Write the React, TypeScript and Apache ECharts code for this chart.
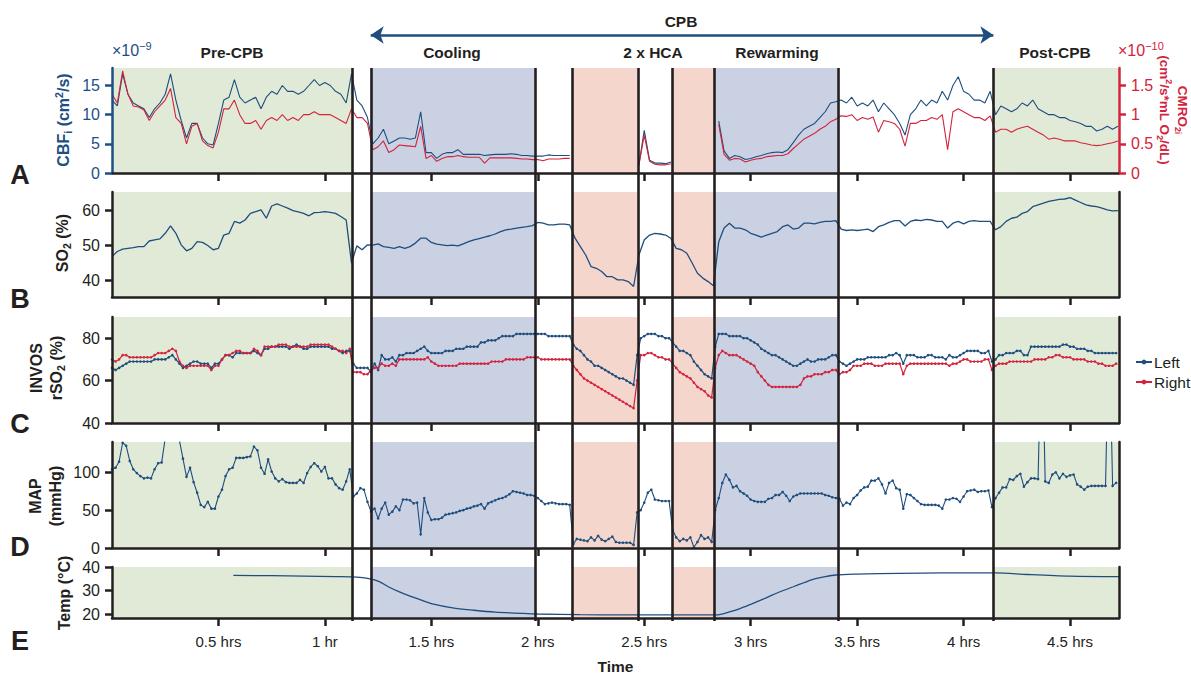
import React, { useEffect, useRef } from "react";
import * as echarts from "echarts";

const FONT = '"Liberation Sans", Arial, Helvetica, sans-serif';
const BLUE = "#1f4e7e";
const AXIS_BLUE = "#1c4f86";
const RED = "#d3233d";
const INK = "#231f20";
const GREEN_BG = "#e1e9d7";
const BLUE_BG = "#c9d1e3";
const PINK_BG = "#f5d6cd";

const X_MAX = 4.73;
const hourTicks = [0.5, 1, 1.5, 2, 2.5, 3, 3.5, 4, 4.5];
const phaseBoundaries = [1.128, 1.215, 1.985, 2.164, 2.466, 2.632, 2.833, 3.406, 4.14];
const greenSpans = [[0, 1.128], [4.14, 4.73]];
const blueSpans = [[1.215, 1.985], [2.833, 3.406]];
const pinkSpans = [[2.164, 2.466], [2.632, 2.833]];
const cpbSpan = [1.215, 4.14];

// Panel A & B traces, sampled every 0.025 h
const TRACE_STEP_HRS = 0.025;
const cbfValues = [
  12.5, 11.5, 17, 13.5, 12, 11.5, 11, 9.5, 11, 12,
  13.5, 17, 12.5, 9, 6, 8.5, 8.5, 6, 5, 4.8,
  8.5, 12.5, 13, 16, 13, 12, 12.5, 13, 11, 13,
  14, 13.5, 15, 14, 14, 13.5, 14, 15, 16, 15,
  15.5, 15, 14, 13.5, 12, 17, 12.5, 11.5, 9.5, 5,
  6, 7.5, 5, 5.5, 6, 6, 5.8, 6, 10.5, 3.5,
  3.5, 2.5, 3.2, 3.5, 3.5, 4, 3.2, 3.2, 3.2, 3.2,
  3, 3.1, 3.2, 3.2, 3.2, 3.3, 3.2, 3, 3, 2.9,
  2.9, 2.9, 3.1, 3, 3, 3, 3, null, null, null,
  null, null, null, null, null, null, null, null, null, 1.4,
  7.3, 2.2, 1.7, 1.7, 1.6, 1.9, null, null, null, null,
  null, null, null, null, 8.9, 3.8, 2.5, 3, 2.8, 2.3,
  2.5, 2.8, 3, 3.3, 3.5, 3.6, 3.5, 4, 5.2, 6.5,
  7.5, 8, 8.5, 9.5, 10.5, 12, 12.2, 12.5, 12, 13,
  11.5, 12, 11.5, 12.5, 10.5, 12, 11, 10, 8.5, 6.5,
  10, 11, 12.5, 11.5, 12.5, 12, 14, 12.5, 15, 16.5,
  14, 13.5, 12.5, 12.5, 12, 14, 10, 11.5, 11, 10.5,
  11, 12, 11.5, 12.5, 11, 10.5, 10, 10, 9.5, 9.5,
  9, 8.8, 8.5, 8, 8, 7.2, 7.5, 8, 7.5, 8,
];
const cmro2Values = [
  1.35, 1.2, 1.75, 1.35, 1.15, 1.13, 1.08, 0.9, 1.05, 1.15,
  1.25, 1.45, 0.95, 0.85, 0.5, 0.8, 0.85, 0.55, 0.47, 0.43,
  0.7, 1.1, 1.1, 1.25, 1.0, 0.85, 0.85, 0.9, 0.75, 0.9,
  0.95, 0.9, 1.0, 0.9, 0.95, 0.9, 1.0, 1.0, 1.05, 1.0,
  1.0, 1.0, 0.95, 0.9, 0.85, 1.1, 0.95, 0.95, 0.85, 0.4,
  0.45, 0.55, 0.35, 0.4, 0.48, 0.47, 0.46, 0.45, 0.8, 0.25,
  0.3, 0.2, 0.25, 0.28, 0.28, 0.3, 0.28, 0.27, 0.27, 0.27,
  0.17, 0.26, 0.26, 0.26, 0.26, 0.26, 0.25, 0.24, 0.24, 0.23,
  0.23, 0.21, 0.24, 0.24, 0.24, 0.25, 0.25, null, null, null,
  null, null, null, null, null, null, null, null, null, 0.14,
  0.65, 0.2, 0.15, 0.14, 0.14, 0.16, null, null, null, null,
  null, null, null, null, 0.83, 0.32, 0.22, 0.25, 0.24, 0.19,
  0.22, 0.24, 0.25, 0.28, 0.29, 0.3, 0.3, 0.33, 0.42, 0.5,
  0.58, 0.63, 0.68, 0.75, 0.8, 0.88, 0.92, 0.98, 0.97, 1.0,
  0.9, 0.95, 0.92, 0.96, 0.7, 0.9, 0.88, 0.85, 0.75, 0.46,
  0.85, 0.85, 0.9, 0.9, 0.95, 0.92, 1.0, 0.4, 1.05, 1.1,
  1.05, 1.0, 0.95, 0.95, 0.9, 0.98, 0.7, 0.75, 0.75, 0.7,
  0.75, 0.78, 0.8, 0.75, 0.7, 0.65, 0.58, 0.6, 0.58, 0.55,
  0.55, 0.55, 0.52, 0.5, 0.48, 0.47, 0.48, 0.5, 0.52, 0.55,
];
const so2Values = [
  46.9, 48.3, 49, 49.2, 49.4, 49.7, 49.7, 51.3, 51.6, 51.9,
  53.5, 55.6, 53.5, 50.2, 48.5, 49.2, 51.1, 50.9, 50, 48.8,
  49.2, 53, 53.5, 56.9, 56.4, 57.3, 59.2, 59.7, 60.2, 57.8,
  61.3, 61.9, 61.3, 60.7, 60, 59.6, 59.2, 58.5, 59.4, 59.5,
  59.7, 59.5, 59.2, 58.3, 57.3, 45, 49.9, 48.8, 50.2, 50.1,
  50.5, 49.7, 49.5, 49.2, 49.7, 49.2, 49.7, 50.7, 52.1, 52.1,
  50.9, 50.4, 50.2, 50, 50.1, 49.9, 50.5, 51.1, 51.6, 52,
  52.4, 52.8, 53.3, 54, 54.5, 54.7, 55, 55.2, 55.4, 55.7,
  56.6, 56.4, 55.9, 55.9, 56.1, 56.1, 55.9, 52.1, 49.7, 47.3,
  44, 43.5, 42.6, 41.1, 41.1, 40.2, 40.2, 39.7, 38.3, 47.3,
  51.6, 53, 53.5, 53.3, 53, 52.1, 49.2, 48.8, 47.8, 45,
  42.1, 40.7, 39.7, 38.5, 51.1, 55, 56.4, 55, 55, 54.5,
  53.5, 53, 52.4, 53, 53.5, 54, 55.4, 55.9, 54.7, 55,
  56.4, 56.4, 56.2, 56.6, 56.9, 56.9, 57.1, 54.7, 54.3, 54.5,
  54.3, 54.5, 54.7, 54, 55.4, 55.9, 56.6, 57.1, 57.1, 55.6,
  56.9, 57.3, 57.1, 57.5, 57.3, 56.9, 56.9, 55, 56.4, 56.9,
  56.2, 56.9, 57.1, 56.9, 56.9, 56.9, 54.5, 55.4, 56.9, 57.8,
  58.1, 59.2, 59.7, 61.1, 61.6, 62.1, 62.6, 62.9, 63.2, 63.3,
  63.7, 63, 62.3, 61.6, 61.3, 61.1, 60.7, 60.2, 59.9, 60,
];

// Panels C & D: one reading per minute
const MINUTE_HRS = 1 / 60;
const invosLeft = [
  66, 65, 66, 67, 68, 69, 69, 69, 69, 69,
  69, 69, 70, 70, 70, 70, 71, 72, 70, 68,
  66, 67, 68, 69, 69, 68, 68, 68, 66, 68,
  68, 70, 72, 72, 71, 73, 73, 73, 73, 73,
  74, 73, 72, 75, 75, 76, 76, 76, 76, 76,
  75, 76, 77, 76, 75, 75, 76, 76, 76, 76,
  76, 76, 75, 75, 74, 73, 74, 74, 68, 66,
  66, 66, 66, 64, 68, 65, 72, 70, 70, 71,
  69, 72, 72, 73, 73, 73, 74, 75, 76, 74,
  73, 73, 73, 73, 74, 74, 74, 75, 75, 75,
  76, 76, 76, 76, 78, 78, 79, 79, 79, 80,
  81, 81, 81, 81, 82, 82, 82, 82, 82, 82,
  82, 82, 82, 81, 81, 81, 81, 81, 81, 81,
  77, 75, 74, 72, 70, 69, 67, 67, 66, 65,
  64, 63, 62, 61, 61, 60, 59, 58, 72, 80,
  81, 82, 82, 82, 81, 81, 80, 80, 78, 76,
  74, 74, 73, 72, 69, 67, 65, 63, 62, 61,
  76, 82, 82, 82, 81, 81, 81, 81, 80, 80,
  79, 78, 77, 75, 74, 73, 72, 72, 71, 70,
  69, 68, 67, 67, 68, 69, 70, 69, 69, 70,
  70, 70, 71, 72, 72, 69, 68, 67, 68, 69,
  70, 70, 70, 71, 71, 71, 71, 71, 71, 72,
  72, 73, 72, 68, 72, 72, 72, 71, 71, 71,
  72, 72, 71, 71, 71, 70, 72, 71, 71, 72,
  73, 74, 74, 74, 74, 73, 73, 74, 69, 70,
  72, 72, 73, 73, 73, 74, 74, 72, 72, 76,
  76, 76, 76, 76, 76, 76, 76, 76, 77, 77,
  76, 76, 75, 75, 75, 74, 74, 73, 73, 73,
  73, 73, 73, 73,
];
const invosRight = [
  70, 69, 70, 72, 72, 71, 71, 71, 71, 71,
  71, 71, 72, 73, 73, 73, 74, 75, 74, 69,
  67, 66, 67, 67, 67, 67, 67, 67, 65, 67,
  67, 70, 72, 72, 73, 74, 74, 73, 73, 73,
  75, 74, 72, 76, 76, 76, 76, 77, 77, 77,
  76, 76, 76, 76, 76, 76, 77, 77, 77, 77,
  77, 77, 76, 75, 74, 74, 73, 75, 64, 64,
  64, 63, 63, 65, 66, 66, 68, 67, 67, 68,
  67, 70, 70, 70, 70, 70, 70, 70, 70, 71,
  69, 68, 67, 67, 67, 67, 67, 67, 68, 68,
  68, 68, 68, 68, 68, 68, 68, 69, 69, 69,
  69, 70, 70, 70, 70, 70, 70, 71, 71, 71,
  71, 70, 70, 70, 70, 70, 70, 70, 70, 70,
  67, 65, 63, 61, 60, 59, 58, 57, 56, 55,
  54, 53, 52, 51, 50, 49, 48, 47, 60, 72,
  72, 73, 73, 72, 71, 71, 70, 70, 68, 66,
  64, 63, 62, 61, 59, 57, 56, 55, 53, 52,
  66, 72, 74, 73, 72, 72, 72, 71, 70, 69,
  68, 67, 64, 62, 60, 58, 57, 57, 57, 57,
  57, 57, 57, 57, 58, 61, 62, 62, 63, 63,
  63, 64, 64, 65, 65, 63, 64, 64, 65, 67,
  67, 67, 68, 68, 68, 67, 67, 67, 68, 68,
  68, 68, 68, 63, 67, 68, 68, 68, 68, 68,
  68, 68, 68, 68, 68, 68, 67, 68, 68, 69,
  70, 70, 69, 69, 69, 69, 70, 70, 65, 67,
  68, 68, 68, 69, 69, 69, 69, 69, 69, 69,
  70, 70, 70, 70, 71, 71, 72, 72, 71, 71,
  71, 70, 70, 70, 70, 69, 69, 69, 68, 68,
  67, 67, 67, 68,
];
const mapValues = [
  104, 106, 114, 139, 135, 115, 104, 99, 95, 92,
  93, 92, 104, 112, 113, 145, 160, 170, 160, 142,
  118, 94, 106, 87, 73, 57, 54, 61, 52, 52,
  68, 77, 95, 104, 106, 119, 119, 119, 120, 121,
  134, 129, 106, 98, 117, 101, 92, 88, 91, 87,
  86, 86, 86, 90, 86, 99, 107, 112, 108, 101,
  107, 92, 92, 84, 79, 77, 88, 104, 68, 72,
  79, 77, 61, 48, 52, 39, 52, 60, 44, 48,
  55, 50, 64, 64, 63, 59, 60, 18, 66, 47,
  37, 38, 38, 40, 44, 45, 46, 47, 49, 50,
  52, 53, 55, 56, 58, 52, 59, 61, 63, 65,
  66, 68, 71, 75, 74, 73, 72, 70, 70, 69,
  66, 62, 58, 59, 60, 59, 58, 58, 58, 57,
  5, 12, 11, 10, 9, 14, 10, 16, 11, 9,
  12, 15, 8, 7, 7, 7, 7, 4, 47, 50,
  60, 73, 77, 64, 63, 62, 62, 62, 24, 14,
  9, 12, 10, 14, 1, 8, 17, 12, 14, 8,
  50, 66, 86, 97, 90, 80, 82, 75, 72, 69,
  64, 62, 61, 61, 61, 65, 66, 70, 70, 74,
  69, 62, 68, 70, 72, 72, 72, 72, 72, 72,
  72, 70, 69, 67, 66, 65, 56, 60, 58, 66,
  70, 76, 80, 81, 89, 89, 92, 84, 72, 86,
  89, 79, 77, 52, 71, 70, 66, 62, 58, 57,
  57, 57, 57, 56, 52, 64, 64, 66, 65, 61,
  68, 75, 76, 77, 74, 75, 75, 76, 54, 66,
  73, 80, 80, 91, 90, 95, 98, 81, 87, 92,
  92, 91, 300, 88, 86, 97, 100, 92, 98, 94,
  96, 97, 84, 81, 77, 81, 82, 82, 82, 82,
  82, 300, 82, 86,
];

// Panel E
const tempHours = [
  0.57, 0.75, 0.9, 1.05, 1.15, 1.2, 1.25, 1.3, 1.35, 1.4,
  1.45, 1.5, 1.6, 1.7, 1.8, 1.9, 2.0, 2.2, 2.4, 2.6,
  2.84, 2.9, 2.95, 3.0, 3.05, 3.1, 3.15, 3.2, 3.25, 3.3,
  3.35, 3.4, 3.5, 3.6, 3.8, 4.0, 4.15, 4.3, 4.5, 4.73,
];
const tempValues = [
  36.4, 36.3, 36.1, 35.9, 35.7, 35.2, 34.0, 31.5, 29.4, 27.6,
  26.0, 24.4, 22.6, 21.6, 20.8, 20.4, 20.0, 19.7, 19.6, 19.6,
  19.6, 20.9, 22.3, 24.1, 26.0, 28.0, 29.9, 31.6, 33.3, 34.9,
  35.9, 36.6, 37.0, 37.2, 37.4, 37.5, 37.5, 36.8, 36.1, 35.9,
];

const phaseLabels = ["Pre-CPB", "Cooling", "2 x HCA", "Rewarming", "Post-CPB"];
const panelLetters = ["A", "B", "C", "D", "E"];

const stepSeries = (vals: (number | null)[], step: number) =>
  vals.map((v, i) => [Math.round(i * step * 10000) / 10000, v]);

const fmtHour = (v: number) => (v === 1 ? "1 hr" : `${v} hrs`);

const grids = [
  { left: 112, right: 72, top: 68, height: 105 },
  { left: 112, right: 72, top: 192, height: 105 },
  { left: 112, right: 72, top: 317, height: 106 },
  { left: 112, right: 72, top: 442, height: 106 },
  { left: 112, right: 72, top: 567, height: 54 },
  { left: 112, right: 72, top: 68, height: 553 },
  { left: 112, right: 72, top: 25, height: 20 },
];

function panelX(i: number) {
  const ax: any = {
    type: "value",
    gridIndex: i,
    min: 0,
    max: X_MAX,
    z: 5,
    axisLine: { show: true, onZero: false, lineStyle: { color: INK, width: 2.5 } },
    axisTick: { show: true, customValues: hourTicks, length: 8, lineStyle: { color: INK, width: 2.5 } },
    axisLabel: {
      show: i === 4,
      customValues: hourTicks,
      formatter: fmtHour,
      color: INK,
      fontSize: 15,
      fontFamily: FONT,
      margin: 16,
    },
    splitLine: { show: false },
  };
  if (i === 4) {
    ax.name = "Time";
    ax.nameLocation = "middle";
    ax.nameGap = 40;
    ax.nameTextStyle = { fontSize: 15.5, fontWeight: "bold", color: INK, fontFamily: FONT };
  }
  return ax;
}

function sideY(grid: number, min: number, max: number, ticks: number[], color: string, position: string) {
  return {
    type: "value",
    gridIndex: grid,
    min,
    max,
    position,
    z: 5,
    axisLine: { show: true, onZero: false, lineStyle: { color, width: 2.5 } },
    axisTick: { show: true, customValues: ticks, length: 7, lineStyle: { color, width: 2.5 } },
    axisLabel: { show: true, customValues: ticks, color, fontSize: 16, fontFamily: FONT, margin: 12 },
    splitLine: { show: false },
  };
}

function edgeY(grid: number) {
  return {
    type: "value",
    gridIndex: grid,
    min: 0,
    max: 1,
    position: "right",
    z: 5,
    axisLine: { show: true, onZero: false, lineStyle: { color: INK, width: 2.5 } },
    axisTick: { show: false },
    axisLabel: { show: false },
    splitLine: { show: false },
  };
}

function hiddenAxis(grid: number, max: number) {
  return { type: "value", gridIndex: grid, min: 0, max, show: false };
}

const spansToArea = (spans: number[][], color: string) =>
  spans.map((s) => [{ xAxis: s[0], itemStyle: { color } }, { xAxis: s[1] }]);

function background(panel: number, yIndex: number) {
  return {
    type: "line",
    xAxisIndex: panel,
    yAxisIndex: yIndex,
    data: [],
    z: 1,
    silent: true,
    markArea: {
      silent: true,
      emphasis: { disabled: true },
      data: [
        ...spansToArea(greenSpans, GREEN_BG),
        ...spansToArea(blueSpans, BLUE_BG),
        ...spansToArea(pinkSpans, PINK_BG),
      ],
    },
  };
}

function trace(name: string, xi: number, yi: number, data: any[], color: string, width: number, dots: boolean) {
  return {
    name,
    type: "line",
    xAxisIndex: xi,
    yAxisIndex: yi,
    data,
    z: 3,
    clip: true,
    silent: true,
    symbol: dots ? "circle" : "none",
    symbolSize: dots ? 2.6 : 0,
    showSymbol: dots,
    lineStyle: { color, width },
    itemStyle: { color },
    emphasis: { disabled: true },
  };
}

function nameRich(color: string, size: number, lineHeight: number) {
  const small = Math.round(size * 0.66 * 10) / 10;
  return {
    b: { fontSize: size, fontWeight: "bold", fontFamily: FONT, fill: color, lineHeight },
    sub: { fontSize: small, fontWeight: "bold", fontFamily: FONT, fill: color, verticalAlign: "bottom" },
    sup: { fontSize: small, fontWeight: "bold", fontFamily: FONT, fill: color, verticalAlign: "top" },
  };
}

function axisName(text: string, x: number, y: number, rotation: number, color: string, size = 16, lineHeight = 20) {
  return {
    type: "text",
    x,
    y,
    rotation,
    silent: true,
    z: 10,
    style: {
      text,
      rich: nameRich(color, size, lineHeight),
      fill: color,
      fontFamily: FONT,
      fontSize: size,
      fontWeight: "bold",
      align: "center",
      verticalAlign: "middle",
    },
  };
}

function plainText(text: string, x: number, y: number, size: number, color = INK, weight = "bold", align = "center") {
  return {
    type: "text",
    x,
    y,
    silent: true,
    z: 10,
    style: { text, fill: color, fontFamily: FONT, fontSize: size, fontWeight: weight, align, verticalAlign: "middle" },
  };
}

function exponent(text: string, x: number, y: number, color: string) {
  return {
    type: "text",
    x,
    y,
    silent: true,
    z: 10,
    style: {
      text,
      fill: color,
      fontFamily: FONT,
      fontSize: 16,
      align: "left",
      verticalAlign: "middle",
      rich: {
        n: { fontSize: 16, fontFamily: FONT, fill: color, lineHeight: 20 },
        e: { fontSize: 11, fontFamily: FONT, fill: color, verticalAlign: "top" },
      },
    },
  };
}

function buildOption() {
  const phaseX = [232, 452, 653, 777, 1055];
  const letterY = [175, 299, 424, 547, 641];
  return {
    animation: false,
    backgroundColor: "#ffffff",
    textStyle: { fontFamily: FONT },
    grid: grids,
    xAxis: [0, 1, 2, 3, 4].map(panelX).concat([hiddenAxis(5, X_MAX), hiddenAxis(6, X_MAX)] as any),
    yAxis: [
      sideY(0, 0, 18, [0, 5, 10, 15], AXIS_BLUE, "left"),
      sideY(0, 0, 1.8, [0, 0.5, 1, 1.5], RED, "right"),
      sideY(1, 35.3, 65.3, [40, 50, 60], INK, "left"),
      edgeY(1),
      sideY(2, 40, 90, [40, 60, 80], INK, "left"),
      edgeY(2),
      sideY(3, 0, 140, [0, 50, 100], INK, "left"),
      edgeY(3),
      sideY(4, 18.3, 40, [20, 30, 40], INK, "left"),
      edgeY(4),
      hiddenAxis(5, 1),
      hiddenAxis(6, 1),
    ],
    legend: {
      data: ["Left", "Right"],
      orient: "vertical",
      left: 1130,
      top: 349,
      itemWidth: 16,
      itemHeight: 6,
      itemGap: 4,
      selectedMode: false,
      textStyle: { fontSize: 15.5, color: INK, fontFamily: FONT, padding: [0, 0, 0, -3] },
    },
    series: [
      background(0, 0),
      background(1, 2),
      background(2, 4),
      background(3, 6),
      background(4, 8),
      trace("CBF", 0, 0, stepSeries(cbfValues, TRACE_STEP_HRS), BLUE, 1.1, false),
      trace("CMRO2", 0, 1, stepSeries(cmro2Values, TRACE_STEP_HRS), RED, 1.1, false),
      trace("SO2", 1, 2, stepSeries(so2Values, TRACE_STEP_HRS), BLUE, 1.3, false),
      trace("Left", 2, 4, stepSeries(invosLeft, MINUTE_HRS), BLUE, 1.2, true),
      trace("Right", 2, 4, stepSeries(invosRight, MINUTE_HRS), RED, 1.2, true),
      trace("MAP", 3, 6, stepSeries(mapValues, MINUTE_HRS), BLUE, 1.1, true),
      {
        ...trace("Temp", 4, 8, tempHours.map((h, i) => [h, tempValues[i]]), BLUE, 1.3, false),
        smooth: 0.3,
      },
      {
        type: "line",
        xAxisIndex: 5,
        yAxisIndex: 10,
        data: [],
        z: 6,
        silent: true,
        markLine: {
          silent: true,
          symbol: ["none", "none"],
          label: { show: false },
          emphasis: { disabled: true },
          lineStyle: { color: INK, width: 2.6, type: "solid" },
          data: phaseBoundaries.map((v) => ({ xAxis: v })),
        },
      },
      {
        type: "line",
        xAxisIndex: 6,
        yAxisIndex: 11,
        data: [],
        z: 6,
        silent: true,
        markLine: {
          silent: true,
          symbol: ["arrow", "arrow"],
          symbolSize: 13,
          label: { show: false },
          emphasis: { disabled: true },
          lineStyle: { color: BLUE, width: 2.5, type: "solid" },
          itemStyle: { color: BLUE },
          data: [[{ coord: [cpbSpan[0], 0.5] }, { coord: [cpbSpan[1], 0.5] }]],
        },
      },
    ],
    graphic: [
      ...phaseLabels.map((t, i) => plainText(t, phaseX[i], 52, 15.5)),
      plainText("CPB", 681, 21, 15.5),
      ...panelLetters.map((t, i) => plainText(t, 20, letterY[i], 27)),
      exponent("{n|×10}{e|−9}", 112, 50, AXIS_BLUE),
      exponent("{n|×10}{e|−10}", 1118, 50, RED),
      axisName("{b|CBF}{sub|i}{b| (cm}{sup|2}{b|/s)}", 63, 120, Math.PI / 2, AXIS_BLUE),
      axisName(
        "{b|CMRO}{sub|2i}\n{b|(cm}{sup|2}{b|/s*mL O}{sub|2}{b|/dL)}",
        1173,
        110,
        -Math.PI / 2,
        RED,
        13.5,
        18
      ),
      axisName("{b|SO}{sub|2}{b| (%)}", 62, 243, Math.PI / 2, INK),
      axisName("{b|INVOS}\n{b|rSO}{sub|2}{b| (%)}", 46, 368, Math.PI / 2, INK),
      axisName("{b|MAP}\n{b|(mmHg)}", 45, 496, Math.PI / 2, INK),
      axisName("{b|Temp (°C)}", 64, 593, Math.PI / 2, INK),
    ],
  };
}

export default function App() {
  const ref = useRef<HTMLDivElement>(null);
  useEffect(() => {
    if (!ref.current) return;
    const chart = echarts.init(ref.current, undefined, { renderer: "svg" });
    chart.setOption(buildOption() as any);
    return () => chart.dispose();
  }, []);
  return (
    <div
      ref={ref}
      style={{ position: "absolute", left: 0, top: 0, width: 1191, height: 675, background: "#fff" }}
    />
  );
}
